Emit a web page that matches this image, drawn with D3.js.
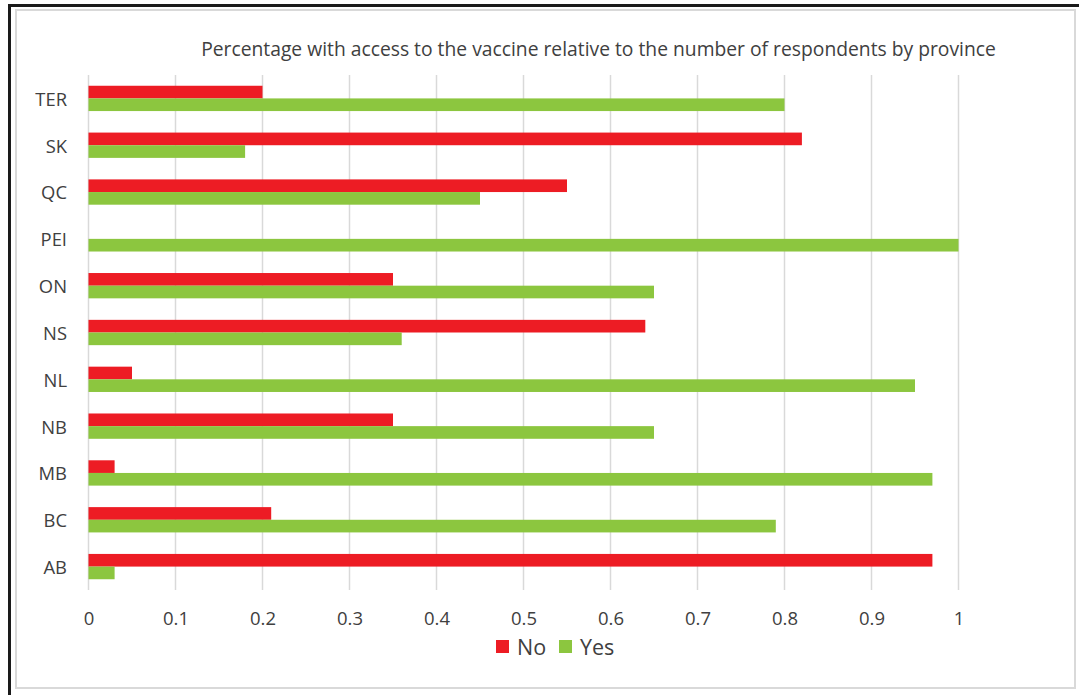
<!DOCTYPE html>
<html>
<head>
<meta charset="utf-8">
<script src="https://cdn.jsdelivr.net/npm/d3@7"></script>
<style>
  html, body { margin: 0; padding: 0; background: #fff; }
  svg { display: block; }
</style>
</head>
<body>
<svg id="chart" width="1079" height="695"></svg>
<script>
// Provinces, listed from the top of the chart down
const provinces = ["TER", "SK", "QC", "PEI", "ON", "NS", "NL", "NB", "MB", "BC", "AB"];
const noValues  = [0.20, 0.82, 0.55, 0.00, 0.35, 0.64, 0.05, 0.35, 0.03, 0.21, 0.97];
const yesValues = [0.80, 0.18, 0.45, 1.00, 0.65, 0.36, 0.95, 0.65, 0.97, 0.79, 0.03];
const seriesNames = ["No", "Yes"];
const seriesColors = ["#ed1c24", "#8cc63f"];
const xTicks = [0, 0.1, 0.2, 0.3, 0.4, 0.5, 0.6, 0.7, 0.8, 0.9, 1];
const titleText = "Percentage with access to the vaccine relative to the number of respondents by province";

const svg = d3.select("#chart");
const font = "Open Sans, Lato, sans-serif";
const textColor = "#404040";

// frame: dark outer edge and pale inner border
svg.append("rect").attr("x", 16).attr("y", 10).attr("width", 1059).attr("height", 678)
  .attr("fill", "#fff").attr("stroke", "#d9d9d9").attr("stroke-width", 2);
svg.append("line").attr("x1", 9.5).attr("x2", 9.5).attr("y1", 4).attr("y2", 695)
  .attr("stroke", "#1a1a1a").attr("stroke-width", 3);
svg.append("line").attr("x1", 8).attr("x2", 1079).attr("y1", 5.5).attr("y2", 5.5)
  .attr("stroke", "#1a1a1a").attr("stroke-width", 3);

const plot = { left: 88.5, right: 958.5, top: 75, bottom: 590 };

const x = d3.scaleLinear().domain([0, 1]).range([plot.left, plot.right]);
const y = d3.scaleBand().domain(provinces).range([plot.top, plot.bottom]).paddingInner(0).paddingOuter(0);
// two bars per band, gap width 85%
const groupWidth = y.bandwidth() / 1.85;
const sub = d3.scaleBand().domain(seriesNames)
  .range([(y.bandwidth() - groupWidth) / 2, (y.bandwidth() + groupWidth) / 2]);

// vertical gridlines
svg.append("g").selectAll("line").data(xTicks).join("line")
  .attr("x1", d => x(d)).attr("x2", d => x(d))
  .attr("y1", plot.top).attr("y2", plot.bottom)
  .attr("stroke", "#d9d9d9").attr("stroke-width", 1.5);

// bars
const rows = provinces.map((p, i) => ({ p, vals: [noValues[i], yesValues[i]] }));
const groups = svg.append("g").selectAll("g").data(rows).join("g")
  .attr("transform", d => `translate(0,${y(d.p)})`);
groups.selectAll("rect").data(d => d.vals.map((v, k) => ({ v, k }))).join("rect")
  .attr("x", x(0))
  .attr("y", d => sub(seriesNames[d.k]))
  .attr("width", d => x(d.v) - x(0))
  .attr("height", sub.bandwidth())
  .attr("fill", d => seriesColors[d.k]);

// category axis labels
const yAxis = d3.axisLeft(y).tickSize(0).tickPadding(21.5);
const gy = svg.append("g").attr("transform", `translate(${plot.left},1.5)`).call(yAxis);
gy.select(".domain").remove();
gy.selectAll("text").attr("font-family", font).attr("font-size", 18.4).attr("fill", textColor);

// value axis labels
const xAxis = d3.axisBottom(x).tickValues(xTicks).tickSize(0).tickPadding(0)
  .tickFormat(d => d3.format("")(+d.toFixed(1)));
const gx = svg.append("g").attr("transform", `translate(0,${plot.bottom + 22})`).call(xAxis);
gx.select(".domain").remove();
gx.selectAll("text").attr("font-family", font).attr("font-size", 18.5).attr("fill", textColor);

// title
svg.append("text").attr("x", 598.5).attr("y", 56).attr("text-anchor", "middle")
  .attr("font-family", font).attr("font-size", 19.3).attr("fill", textColor)
  .text(titleText);

// legend
const legend = svg.append("g");
const legendItems = [{ name: "No", x: 496, tx: 517 }, { name: "Yes", x: 559, tx: 580 }];
legendItems.forEach((d, i) => {
  legend.append("rect").attr("x", d.x).attr("y", 640).attr("width", 13).attr("height", 13)
    .attr("fill", seriesColors[i]);
  legend.append("text").attr("x", d.tx).attr("y", 655)
    .attr("font-family", font).attr("font-size", 21.5).attr("fill", textColor).text(d.name);
});
</script>
</body>
</html>
